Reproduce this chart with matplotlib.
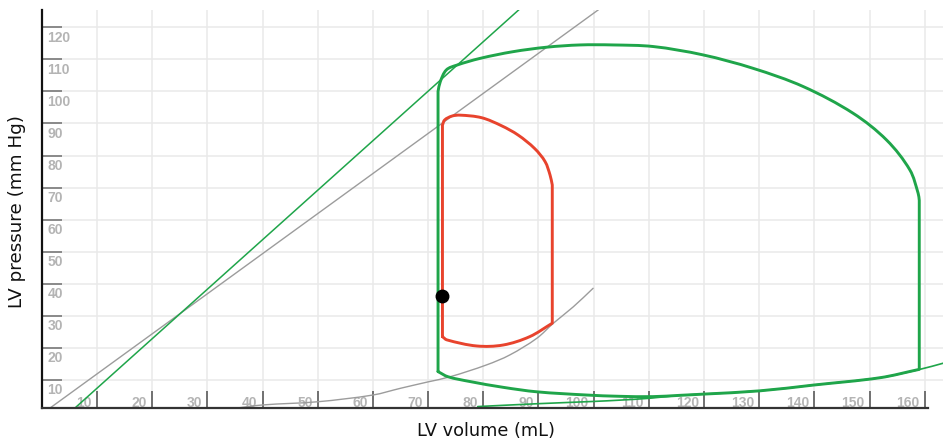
import matplotlib
matplotlib.use("Agg")
import numpy as np
import matplotlib.pyplot as plt
from matplotlib.path import Path
from matplotlib.patches import PathPatch

# ---------------- data ----------------
x_ticks = [10, 20, 30, 40, 50, 60, 70, 80, 90, 100, 110, 120, 130, 140, 150, 160]
y_ticks = [10, 20, 30, 40, 50, 60, 70, 80, 90, 100, 110, 120]

# end-systolic pressure-volume relations (straight lines, endpoints)
espvr_gray_x = [0.5, 100.8]
espvr_gray_y = [0.0, 125.4]
espvr_green_x = [5.2, 86.4]
espvr_green_y = [0.0, 125.4]

# end-diastolic pressure-volume relation (gray, original)
edpvr_gray_x = [30.0, 34.5, 40.0, 50.0, 60.0, 65.0, 70.0, 74.0, 80.6, 84.8, 89.7, 92.7, 96.3, 99.9]
edpvr_gray_y = [0.6, 1.1, 2.2, 3.2, 5.3, 7.4, 9.4, 11.0, 14.7, 17.8, 23.0, 27.7, 32.8, 38.6]

# end-diastolic pressure-volume relation (green, new)
edpvr_green_x = [79.0, 90.0, 100.0, 104.7, 110.2, 115.6, 120.1, 130.1, 139.8, 151.9, 159.1, 163.5]
edpvr_green_y = [1.7, 2.6, 3.3, 3.7, 4.3, 5.2, 5.6, 6.6, 8.4, 10.7, 13.3, 15.3]

# large (green) PV loop
loop_green_x = [71.8, 71.8, 72.2, 73.3, 75.2, 79.4, 85.4, 91.5, 97.5, 103.5, 110.8, 119.8,
                128.9, 138.0, 147.0, 153.1, 157.3, 158.8, 159.0, 159.0, 151.9, 139.8,
                130.1, 120.1, 115.6, 110.7, 104.7, 98.7, 89.7, 83.6, 77.6, 73.6, 71.8]
loop_green_y = [12.6, 100.0, 103.0, 106.7, 108.2, 110.3, 112.4, 113.8, 114.5, 114.5, 114.0, 111.4,
                107.2, 101.5, 93.2, 84.8, 75.5, 68.2, 66.0, 13.3, 10.7, 8.4,
                6.6, 5.6, 5.2, 4.8, 4.9, 5.3, 6.3, 7.7, 9.5, 11.0, 12.6]

# small (red) PV loop
loop_red_x = [72.6, 72.6, 73.0, 74.3, 75.8, 79.7, 83.3, 86.3, 89.3, 91.2, 92.1, 92.5, 92.5,
              88.4, 83.6, 78.8, 73.4, 72.6]
loop_red_y = [23.5, 89.5, 91.1, 92.3, 92.6, 91.8, 89.3, 86.4, 82.2, 78.1, 73.9, 70.8, 27.7,
              23.5, 20.9, 20.6, 22.5, 23.5]

# marker point
point_x = [72.6]
point_y = [36.3]

# ---------------- style ----------------
GREEN = "#1fa54a"
RED = "#e8432d"
GRAY = "#9c9c9c"
TICKLBL = "#b4b4b4"
GRID = "#e9e9e9"

W, H = 943, 442
fig = plt.figure(figsize=(W / 100, H / 100), dpi=100)
left_px, bottom_px, top_px = 41.8, 408, 10
ax = fig.add_axes([left_px / W, (H - bottom_px) / H, 1 - left_px / W, (bottom_px - top_px) / H])
ax.set_xlim(0, 163.3)
ax.set_ylim(1.25, 125.4)


def smooth_path(xs, ys, corners=(), closed=False):
    """Smooth curve through the data points (Catmull-Rom style, computed in
    display space so the curvature looks even), returned in data coords."""
    pts = ax.transData.transform(np.column_stack([xs, ys]))
    n = len(pts)
    corners = set(corners)
    if closed and 0 in corners:
        corners.add(n - 1)

    def unit(v):
        L = np.hypot(*v)
        return v / L if L > 0 else v

    verts = [pts[0]]
    codes = [Path.MOVETO]
    for i in range(n - 1):
        p1, p2 = pts[i], pts[i + 1]
        if i > 0:
            p0 = pts[i - 1]
        else:
            p0 = pts[-2] if closed else pts[i]
        if i + 2 < n:
            p3 = pts[i + 2]
        else:
            p3 = pts[1] if closed else pts[i + 1]
        L = np.hypot(*(p2 - p1))
        d1 = unit(p2 - p1) if i in corners else unit(p2 - p0)
        d2 = unit(p2 - p1) if (i + 1) in corners else unit(p3 - p1)
        c1 = p1 + d1 * L / 3
        c2 = p2 - d2 * L / 3
        verts += [c1, c2, p2]
        codes += [Path.CURVE4] * 3
    inv = ax.transData.inverted()
    return Path(inv.transform(np.array(verts)), codes)


def draw_smooth(xs, ys, color, lw, z, corners=(), closed=False):
    p = smooth_path(xs, ys, corners, closed)
    ax.add_patch(PathPatch(p, fill=False, edgecolor=color, lw=lw, zorder=z,
                           joinstyle="round", capstyle="round"))


# grid
for xv in x_ticks:
    ax.axvline(xv, color=GRID, lw=1.1, zorder=0)
for yv in y_ticks:
    ax.axhline(yv, color=GRID, lw=1.1, zorder=0)

# spines
for s in ["top", "right"]:
    ax.spines[s].set_visible(False)
ax.spines["left"].set_color("#111111")
ax.spines["left"].set_linewidth(1.6)
ax.spines["bottom"].set_color("#333333")
ax.spines["bottom"].set_linewidth(1.6)
ax.spines["bottom"].set_bounds(0, 160.6)

ax.set_xticks(x_ticks)
ax.set_yticks(y_ticks)
ax.set_xticklabels([])
ax.set_yticklabels([])
ax.tick_params(axis="x", direction="in", length=12, width=1.4, color="#707070")
ax.tick_params(axis="y", direction="in", length=14.5, width=1.4, color="#8a8a8a")

for xv in x_ticks:
    ax.text(xv - 0.9, 1.6, str(xv), ha="right", va="baseline", fontsize=10,
            fontweight="bold", color=TICKLBL, family="Liberation Sans", zorder=1)
for yv in y_ticks:
    ax.text(1.0, yv - 1.0, str(yv), ha="left", va="top", fontsize=10,
            fontweight="bold", color=TICKLBL, family="Liberation Sans", zorder=1)

# curves
ax.plot(espvr_gray_x, espvr_gray_y, color=GRAY, lw=1.0, zorder=2)
ax.plot(espvr_green_x, espvr_green_y, color=GREEN, lw=1.1, zorder=2)
draw_smooth(edpvr_gray_x, edpvr_gray_y, GRAY, 1.0, 2)
draw_smooth(edpvr_green_x, edpvr_green_y, GREEN, 1.2, 2)
draw_smooth(loop_green_x, loop_green_y, GREEN, 2.1, 3, corners=(0, 1, 18, 19), closed=True)
draw_smooth(loop_red_x, loop_red_y, RED, 2.1, 4, corners=(0, 1, 11, 12), closed=True)
ax.plot(point_x, point_y, "o", color="black", ms=9, zorder=5)

fig.text(486 / W, 1 - 431 / H, "LV volume (mL)", ha="center", va="center", fontsize=12.8,
         family="DejaVu Sans", color="#111111")
fig.text(17 / W, 1 - 211 / H, "LV pressure (mm Hg)", ha="center", va="center", rotation=90,
         fontsize=13.2, family="DejaVu Sans", color="#111111")

fig.savefig("out.png", dpi=100)
